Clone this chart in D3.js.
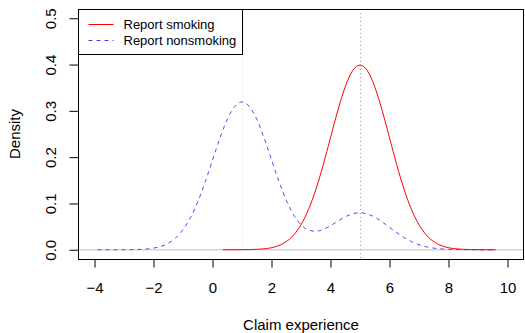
<!DOCTYPE html>
<html>
<head>
<meta charset="utf-8">
<script src="https://cdn.jsdelivr.net/npm/d3@7"></script>
<style>
  body { margin: 0; background: #fff; }
  svg { display: block; font-family: "Liberation Sans", Arial, sans-serif; }
</style>
</head>
<body>
<svg id="chart" width="525" height="333"></svg>
<script>
// values
const xTicks = [-4, -2, 0, 2, 4, 6, 8, 10];
const yTicks = [0, 0.1, 0.2, 0.3, 0.4, 0.5];
const seriesNames = ['Report smoking', 'Report nonsmoking'];
const refLines = [1, 5];

const smokeX = [0.35, 0.5, 0.75, 1, 1.25, 1.5, 1.75, 2, 2.25, 2.5, 2.75, 3, 3.25, 3.5, 3.75, 4, 4.25, 4.5, 4.75, 5,
  5.25, 5.5, 5.75, 6, 6.25, 6.5, 6.75, 7, 7.25, 7.5, 7.75, 8, 8.25, 8.5, 8.75, 9, 9.25, 9.5, 9.6];
const smokeY = [0, 0, 0, 0.0001, 0.0004, 0.0009, 0.002, 0.0044, 0.0091, 0.0175, 0.0317, 0.054, 0.0863, 0.1295, 0.1826, 0.242, 0.3011, 0.3521, 0.3867, 0.3989,
  0.3867, 0.3521, 0.3011, 0.242, 0.1826, 0.1295, 0.0863, 0.054, 0.0317, 0.0175, 0.0091, 0.0044, 0.002, 0.0009, 0.0004, 0.0001, 0, 0, 0];

const nonX = [-3.9, -3.5, -3.25, -3, -2.75, -2.5, -2.25, -2, -1.75, -1.5, -1.25, -1, -0.75, -0.5, -0.25, 0, 0.25, 0.5, 0.75, 1,
  1.25, 1.5, 1.75, 2, 2.25, 2.5, 2.75, 3, 3.25, 3.5, 3.75, 4, 4.25, 4.5, 4.75, 5, 5.25, 5.5, 5.75, 6,
  6.25, 6.5, 6.75, 7, 7.25, 7.5, 7.75, 8, 8.25, 8.5, 8.75, 9, 9.25, 9.5];
const nonY = [0, 0, 0, 0.0001, 0.0003, 0.0007, 0.0016, 0.0035, 0.0073, 0.014, 0.0254, 0.0432, 0.069, 0.1036, 0.1461, 0.1936, 0.2409, 0.2817, 0.3093, 0.3192,
  0.3094, 0.2818, 0.2413, 0.1945, 0.1479, 0.1071, 0.0753, 0.054, 0.0427, 0.0399, 0.0438, 0.0519, 0.0618, 0.0711, 0.0776, 0.0799, 0.0773, 0.0704, 0.0602, 0.0484,
  0.0365, 0.0259, 0.0173, 0.0108, 0.0063, 0.0035, 0.0018, 0.0009, 0.0004, 0.0002, 0.0001, 0, 0, 0];

const plotLeft = 78, plotRight = 524, plotTop = 9, plotBottom = 259;

const svg = d3.select('#chart');

// R style 4% padding around xlim / ylim
const x = d3.scaleLinear().domain([-4.56, 10.56]).range([plotLeft, plotRight]);
const y = d3.scaleLinear().domain([-0.02, 0.52]).range([plotBottom, plotTop]);

// reference lines
svg.append('line')
  .attr('x1', plotLeft).attr('x2', plotRight)
  .attr('y1', y(0)).attr('y2', y(0))
  .attr('stroke', '#d6d6d6').attr('stroke-width', 1.6);

svg.selectAll('.vref')
  .data(refLines)
  .enter()
  .append('line')
  .attr('x1', (d) => Math.round(x(d)) + 0.5).attr('x2', (d) => Math.round(x(d)) + 0.5)
  .attr('y1', plotTop).attr('y2', plotBottom)
  .attr('stroke', (d, i) => i === 0 ? '#d8d8d8' : '#9a9a9a')
  .attr('stroke-dasharray', '1,3');

const line = d3.line()
  .x((d) => x(d[0]))
  .y((d) => y(d[1]))
  .curve(d3.curveMonotoneX);

svg.append('path')
  .datum(d3.zip(nonX, nonY))
  .attr('d', line)
  .attr('fill', 'none')
  .attr('stroke', '#6a3cff')
  .attr('stroke-width', 1)
  .attr('stroke-dasharray', '4,4');

svg.append('path')
  .datum(d3.zip(smokeX, smokeY))
  .attr('d', line)
  .attr('fill', 'none')
  .attr('stroke', '#ff0000')
  .attr('stroke-width', 1);

// box
svg.append('rect')
  .attr('x', plotLeft + 0.5).attr('y', plotTop + 0.5)
  .attr('width', plotRight - plotLeft - 1).attr('height', plotBottom - plotTop)
  .attr('fill', 'none').attr('stroke', '#000');

// axes
const xAxis = svg.append('g')
  .attr('transform', `translate(0,${plotBottom + 0.5})`)
  .call(d3.axisBottom(x).tickValues(xTicks).tickSize(8).tickPadding(15)
    .tickFormat((d) => d < 0 ? '\u2212' + Math.abs(d) : d));
xAxis.select('.domain').attr('d', `M${x(-4)},0H${x(10)}`);

const yAxis = svg.append('g')
  .attr('transform', `translate(${plotLeft + 0.5},0)`)
  .call(d3.axisLeft(y).tickValues(yTicks).tickSize(9).tickFormat(d3.format('.1f')));
yAxis.select('.domain').attr('d', `M0,${y(0)}V${y(0.5)}`);
yAxis.selectAll('.tick text')
  .attr('transform', 'rotate(-90)')
  .attr('x', 0).attr('y', -23)
  .attr('dy', 0)
  .attr('text-anchor', 'middle');

svg.selectAll('.tick text').attr('font-size', 15).attr('fill', '#000').attr('font-family', '"Liberation Sans", Arial, sans-serif');
svg.selectAll('.tick line').attr('stroke', '#000');
svg.selectAll('.domain').attr('stroke', '#000');

// axis titles
svg.append('text')
  .attr('x', (plotLeft + plotRight) / 2).attr('y', 329.5)
  .attr('text-anchor', 'middle')
  .attr('font-size', 15)
  .text('Claim experience');

svg.append('text')
  .attr('transform', `translate(19.5,${(plotTop + plotBottom) / 2}) rotate(-90)`)
  .attr('text-anchor', 'middle')
  .attr('font-size', 15)
  .text('Density');

// legend
const legendW = 164, legendH = 45;
const legend = svg.append('g').attr('transform', `translate(${plotLeft + 0.5},${plotTop + 0.5})`);
legend.append('rect')
  .attr('width', legendW).attr('height', legendH)
  .attr('fill', '#fff').attr('stroke', '#000');

const items = legend.selectAll('.legend')
  .data(seriesNames)
  .enter()
  .append('g')
  .attr('class', 'legend')
  .attr('transform', (d, i) => `translate(0,${15 + i * 16})`);
items.append('line')
  .attr('x1', 10).attr('x2', 35)
  .attr('stroke', (d, i) => i === 0 ? '#ff0000' : '#4433ff')
  .attr('stroke-dasharray', (d, i) => i === 0 ? null : '4,4');
items.append('text')
  .attr('x', 45).attr('y', 4.5)
  .attr('font-size', 13)
  .text((d) => d);
</script>
</body>
</html>
